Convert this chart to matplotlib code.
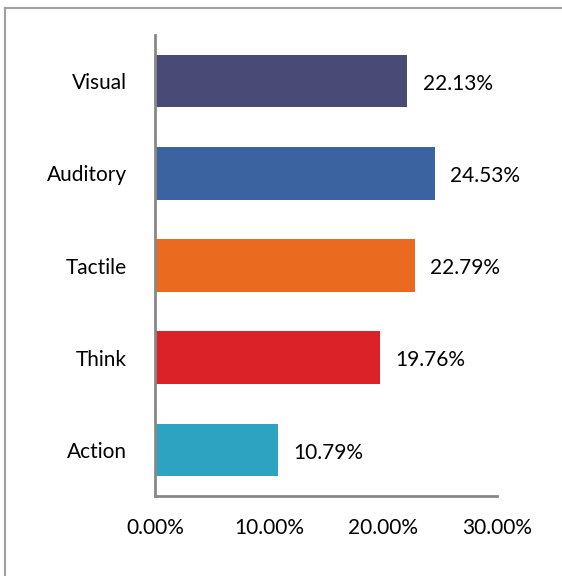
import matplotlib.pyplot as plt
from matplotlib.lines import Line2D

categories = ["Visual", "Auditory", "Tactile", "Think", "Action"]
values = [22.13, 24.53, 22.79, 19.76, 10.79]
colors = ["#4a4a77", "#3a63a0", "#ea6a20", "#dc2229", "#2ea3c1"]
xticks = [0, 10, 20, 30]

W, H = 562, 576
plt.rcParams["font.family"] = ["Lato", "DejaVu Sans"]

fig = plt.figure(figsize=(W / 100, H / 100), dpi=100)
ax = fig.add_axes([155 / W, 1 - 496 / H, (497 - 155) / W, (496 - 35) / H])

pos = list(range(len(categories)))
ax.barh(pos, values, height=0.57, color=colors)
for y, v in zip(pos, values):
    ax.annotate(f"{v:.2f}%", (v, y), xytext=(11, -2), textcoords="offset points",
                ha="left", va="center", fontsize=15)

ax.set_ylim(len(categories) - 0.5, -0.5)
ax.set_xlim(0, 30)
ax.set_yticks(pos, categories, fontsize=15)
ax.set_xticks(xticks, [f"{t:.2f}%" for t in xticks], fontsize=15)
ax.tick_params(length=0)
ax.tick_params(axis="y", pad=20)
ax.tick_params(axis="x", pad=16)
for s in ["top", "right"]:
    ax.spines[s].set_visible(False)
for s in ["left", "bottom"]:
    ax.spines[s].set_color("#888888")
    ax.spines[s].set_linewidth(2)

# outer frame: top and left only
fig.add_artist(Line2D([5 / W, 5 / W], [0, 1 - 8 / H], color="#a0a0a0", lw=1.5))
fig.add_artist(Line2D([5 / W, 1], [1 - 8 / H, 1 - 8 / H], color="#a0a0a0", lw=1.5))

fig.savefig("out.png", dpi=100)
